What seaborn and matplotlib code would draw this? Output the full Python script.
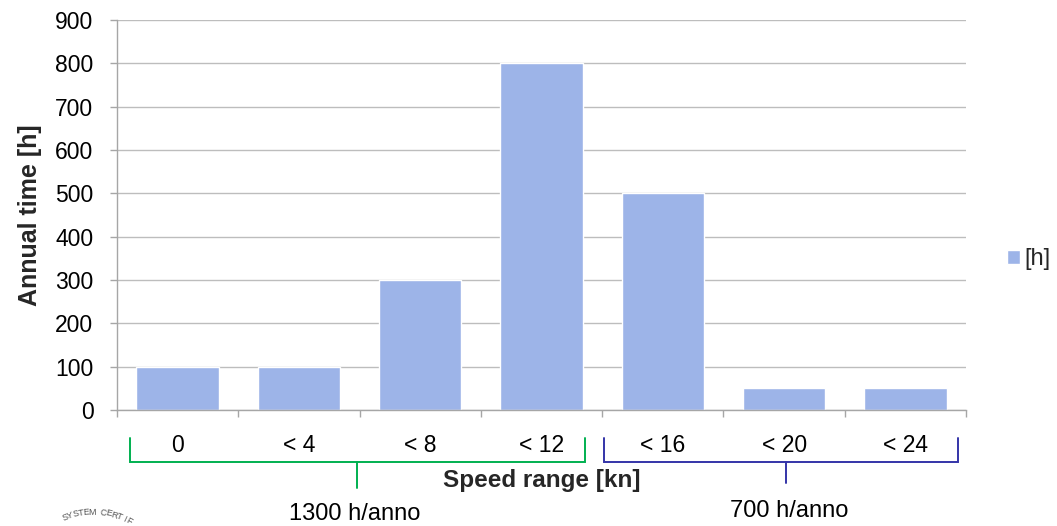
import numpy as np
import matplotlib
matplotlib.use("Agg")
import matplotlib.pyplot as plt
import seaborn as sns
import pandas as pd

categories = ["0", "< 4", "< 8", "< 12", "< 16", "< 20", "< 24"]
hours = [100, 100, 300, 800, 500, 50, 50]
y_ticks = [0, 100, 200, 300, 400, 500, 600, 700, 800, 900]
group_labels = ["1300 h/anno", "700 h/anno"]
seal_text = "QUALITY SYSTEM CERTIFIED"

sns.set_theme(style="white")
plt.rcParams["font.family"] = ["Liberation Sans", "DejaVu Sans"]

df = pd.DataFrame({"speed": categories, "hours": hours, "series": "[h]"})

W, H = 1057, 526
fig = plt.figure(figsize=(W / 100, H / 100), dpi=100)
ax = fig.add_axes([117 / W, 1 - 410 / H, 849 / W, 390 / H])

bar_color = "#9DB4E8"
sns.barplot(data=df, x="speed", y="hours", hue="series", palette=[bar_color],
            width=0.68, ax=ax, saturation=1, legend=True)

grid_c = "#BDBDBD"
ax.set_ylim(0, 900)
ax.set_xlim(-0.5, 6.5)
ax.set_yticks(y_ticks)
ax.yaxis.grid(True, color=grid_c, linewidth=1)
ax.set_axisbelow(True)
for s in ["top", "right"]:
    ax.spines[s].set_visible(False)
for s in ["left", "bottom"]:
    ax.spines[s].set_color("#A6A6A6")
    ax.spines[s].set_linewidth(1)

# category separators as minor x ticks
ax.set_xticks([i + 0.5 for i in range(-1, 7)], minor=True)
ax.tick_params(axis="x", which="minor", length=5, color="#A6A6A6", width=1,
               direction="out", bottom=True)
ax.tick_params(axis="x", which="major", length=0, pad=17, labelsize=16.5,
               labelcolor="black")
ax.tick_params(axis="y", length=5, color="#A6A6A6", width=1, direction="out",
               left=True, labelsize=16.5, labelcolor="black", pad=12)

ax.set_xlabel("Speed range [kn]", fontsize=17.5, fontweight="bold")
ax.set_ylabel("Annual time [h]", fontsize=18, fontweight="bold")
ax.xaxis.set_label_coords(0.5, -0.182)
ax.xaxis.label.set_va("center")
ax.yaxis.set_label_coords((30 - 117) / 849, 0.5)
ax.yaxis.label.set_va("center")

ax.legend(loc="center left", bbox_to_anchor=(1007 / W, 1 - 259 / H),
          bbox_transform=fig.transFigure, frameon=False, fontsize=17,
          handlelength=0.55, handleheight=0.55, handletextpad=0.2,
          borderpad=0, borderaxespad=0)

# group brackets below the category labels
tr = ax.get_xaxis_transform()
brackets = [(-0.393, 3.358, 1.48, -0.200, "#00B050", group_labels[0], 1.46, -0.267),
            (3.515, 6.43, 5.02, -0.187, "#3434A8", group_labels[1], 5.04, -0.259)]
for x0, x1, xm, ystem, col, txt, tx, ty in brackets:
    ax.plot([x0, x0, x1, x1], [-0.072, -0.133, -0.133, -0.072], color=col, lw=1.4,
            transform=tr, clip_on=False, solid_joinstyle="miter")
    ax.plot([xm, xm], [-0.133, ystem], color=col, lw=1.4, transform=tr, clip_on=False)
    ax.text(tx, ty, txt, transform=tr, ha="center", va="center", fontsize=17,
            color="black")

# top of a certification seal peeking in at the lower-left corner
cx, cy, r = 93, -59, 73
step = 4.36
theta0 = 90 + 13.2 * step
for i, ch in enumerate(seal_text):
    th = np.deg2rad(theta0 - i * step)
    px = cx + r * np.cos(th)
    py = cy + r * np.sin(th)
    if py < 4:
        continue
    fig.text(px / W, py / H, ch, ha="center", va="center", fontsize=6.5,
             color="#555555", rotation=np.rad2deg(th) - 90)

fig.savefig("out.png", dpi=100)
